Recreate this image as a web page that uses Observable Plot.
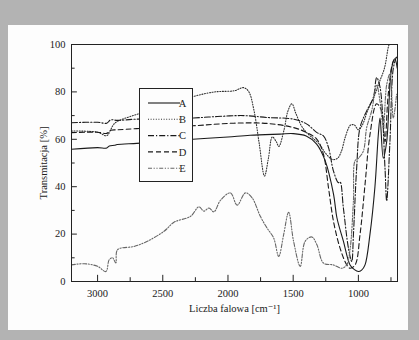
<!DOCTYPE html>
<html><head><meta charset="utf-8">
<script src="https://cdn.jsdelivr.net/npm/d3@7"></script>
<script src="https://cdn.jsdelivr.net/npm/@observablehq/plot@0.6"></script>
<style>
html,body{margin:0;padding:0;background:#b3b3b3;overflow:hidden;}
#wrap{position:relative;width:419px;height:340px;overflow:hidden;}
#panel{position:absolute;left:8px;top:25px;width:400px;height:305px;background:#fdfdfd;}
#chart{position:absolute;left:0;top:0;line-height:0;}
#chart svg, #chart svg text{font-family:"Liberation Serif","DejaVu Serif",serif !important;}
</style></head>
<body><div id="wrap"><div id="panel"></div><div id="chart"></div></div>
<script>
const seriesNames = ["A","B","C","D","E"];
const xTicks = [3000,2500,2000,1500,1000];
const xMinor = [2750,2250,1750,1250,750];
const yTicks = [0,20,40,60,80,100];
const yMinor = [10,30,50,70,90];

const waveA = [3200,3000,2930,2910,2870,2850,2700,2500,2270,2000,1830,1600,1500,1400,1320,1255,1190,1165,1115,1064,1030,1000,975,949,911,873,847,834,809,783,745,720,702];
const transA = [55.8,56.5,56.3,57.2,57.5,57.8,58.3,59,60,61,61.7,62.2,62.4,61.4,58,51,36.7,27,17,7,5,4.2,4.8,7,20,40,62,69,52,59,90,94,90];

const waveB = [3200,3000,2930,2900,2880,2850,2700,2500,2270,2100,1950,1880,1840,1800,1760,1720,1690,1660,1630,1610,1570,1540,1510,1480,1440,1400,1350,1300,1250,1200,1160,1130,1100,1060,1030,1000,970,930,880,840,800,770,758];
const transB = [63.5,63,61.5,64,66,67.5,70.5,74,78,80,80.5,81.8,80,72,58,44.5,52,61,59,57,64,72,75,71,66,63,60.5,58,54,51.5,52,55,61,66,66,64,66,72,78,84,90,99,101];

const waveC = [3200,3000,2930,2900,2850,2700,2270,2083,1879,1700,1497,1395,1318,1268,1229,1191,1153,1140,1115,1076,1051,1038,1013,987,936,885,860,834,796,783,758,732,707];
const transC = [67,67.2,66.8,68.2,68,68.5,69,69.6,70,69.2,68.5,66.4,62.8,61.4,56.5,46.6,41.7,42,31,14,8.5,19.8,48,65,72,77.7,86,82,48,34,59,90,95];

const waveD = [3200,3000,2930,2900,2850,2700,2270,1955,1700,1500,1395,1318,1268,1229,1191,1140,1089,1064,1025,987,949,911,860,822,796,771,732,707];
const transD = [62.8,63,62.5,63.8,64,64.5,65.7,66.8,66.7,65,62.8,60,53.7,39.5,25.4,14,7,5.6,7,20,41,62,75,72,59,79,93,94.6];

const waveE = [3200,3102,3000,2936,2911,2885,2860,2847,2720,2618,2490,2414,2287,2223,2185,2146,2108,2057,1981,1930,1866,1815,1752,1701,1650,1611,1573,1535,1497,1446,1408,1357,1318,1268,1191,1127,1089,1064,1038,1025,1000,962,936,898,860,834,809,783,758,732,707];
const transE = [7,7.5,6.4,4.2,9.2,10,7.8,13.4,14.8,17,21.2,25,27.5,31.5,29.7,31,29.4,34.3,37.4,32.2,37.4,35.3,27.5,22.6,18.4,10.6,19.8,29.2,17,6.4,17,18.8,15.5,7.8,7,5.6,7,13.4,34,51,52,55,65,72,83,76,65,83,87.6,69,79];

const waves = [waveA,waveB,waveC,waveD,waveE];
const trans = [transA,transB,transC,transD,transE];
const dashes = {A:null, B:"1,1.6", C:"6,2,1.2,2", D:"5,3", E:"4,1.6,1.2,1.6,1.2,1.6"};
const colors = {A:"#1a1a1a", B:"#333", C:"#1a1a1a", D:"#1a1a1a", E:"#666"};

const rows = [];
seriesNames.forEach((s,i)=>waves[i].forEach((w,j)=>rows.push({s, w, t: trans[i][j]})));

const font = "Liberation Serif, DejaVu Serif, serif";
const lineMarks = seriesNames.map(s => Plot.line(rows.filter(r=>r.s===s), {
  x:"w", y:"t", stroke: colors[s], strokeWidth: 1.1, strokeDasharray: dashes[s], curve:"catmull-rom", clip:true
}));

const chart = Plot.plot({
  width: 419, height: 340,
  marginLeft: 71, marginRight: 22, marginTop: 44, marginBottom: 59,
  style: {fontFamily: font, fontSize: "10.5px", color:"#222", background:"transparent", overflow:"visible"},
  x: {domain:[3200,700]},
  y: {domain:[0,100]},
  marks: [
    ...lineMarks,
    Plot.ruleX(xTicks, {y1:0, y2:2.6, stroke:"#222"}),
    Plot.ruleX(xMinor, {y1:0, y2:1.6, stroke:"#222"}),
    Plot.ruleY(yTicks, {x1:3200, x2:3155, stroke:"#222"}),
    Plot.ruleY(yMinor, {x1:3200, x2:3172, stroke:"#222"}),
    Plot.axisX(xTicks, {tickSize:0, tickPadding:8, fontSize:10.5, tickFormat: d => String(d), label:"Liczba falowa [cm⁻¹]", labelAnchor:"center", labelOffset:30, labelArrow:"none"}),
    Plot.axisY(yTicks, {tickSize:0, tickPadding:6, fontSize:10.5, tickFormat: d => String(d), label:"Transmitacja [%]", labelAnchor:"center", labelOffset:32, labelArrow:"none"}),
    Plot.frame({stroke:"#222", strokeWidth:1})
  ]
});
document.getElementById("chart").appendChild(chart);

// legend
const svg = d3.select(chart);
const g = svg.append("g").attr("font-family", font).attr("font-size", "10.5px");
g.append("rect").attr("x",139.5).attr("y",88.5).attr("width",53).attr("height",93).attr("fill","#fdfdfd").attr("stroke","#222");
seriesNames.forEach((s,i)=>{
  const y = 103 + i*16.3;
  g.append("line").attr("x1",148).attr("x2",180).attr("y1",y).attr("y2",y)
    .attr("stroke",colors[s]).attr("stroke-width",1.1).attr("stroke-dasharray",dashes[s]);
  g.append("text").attr("x",182.5).attr("y",y).attr("dy","0.35em").attr("fill","#222").text(s);
});
</script></body></html>
